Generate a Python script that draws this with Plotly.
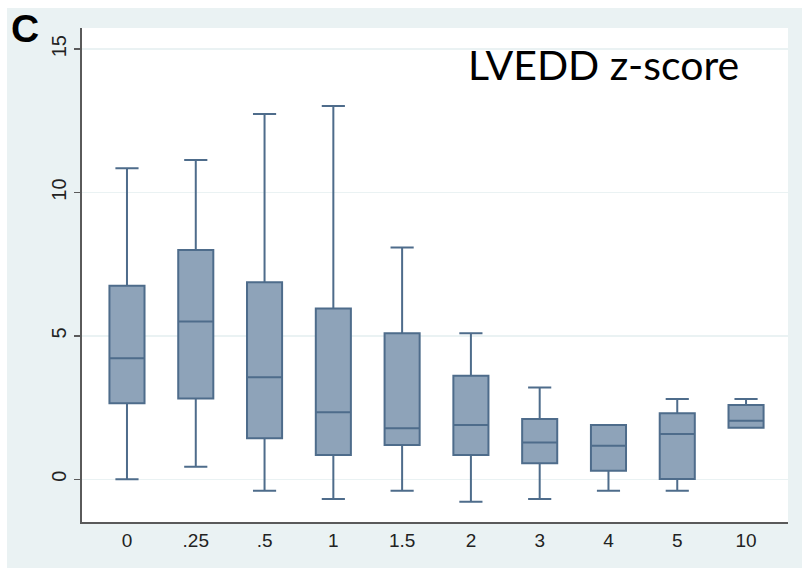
import plotly.graph_objects as go

# ---- data ----
categories = ["0", ".25", ".5", "1", "1.5", "2", "3", "4", "5", "10"]
lower_whisker = [0.00, 0.44, -0.40, -0.69, -0.40, -0.78, -0.69, -0.40, -0.40, 1.80]
q1_values = [2.65, 2.82, 1.43, 0.85, 1.20, 0.85, 0.56, 0.30, 0.01, 1.80]
median_values = [4.22, 5.50, 3.56, 2.34, 1.78, 1.89, 1.28, 1.17, 1.58, 2.04]
q3_values = [6.75, 8.00, 6.87, 5.96, 5.09, 3.61, 2.10, 1.89, 2.30, 2.59]
upper_whisker = [10.85, 11.14, 12.74, 13.02, 8.08, 5.09, 3.20, 1.89, 2.80, 2.80]
y_ticks = [0, 5, 10, 15]
panel_label = "C"
chart_title = "LVEDD z-score"

# ---- layout geometry (page pixels) ----
W, H = 802, 568
L, R, T, B = 82, 788, 28, 522


def px(x):
    return (x - L) / (R - L)


def py(y):
    return (B - y) / (B - T)


BG = "rgb(234,242,243)"
FILL = "rgb(142,163,185)"
LINE = "rgb(78,108,139)"

fig = go.Figure()
fig.add_trace(go.Box(
    x=categories,
    q1=q1_values,
    median=median_values,
    q3=q3_values,
    lowerfence=lower_whisker,
    upperfence=upper_whisker,
    fillcolor=FILL,
    line=dict(color=LINE, width=2),
    whiskerwidth=0.66,
    width=0.51,
    boxpoints=False,
    hoverinfo="skip",
    showlegend=False,
))

fig.update_layout(
    width=W, height=H,
    margin=dict(l=L, r=W - R, t=T, b=H - B, pad=0),
    paper_bgcolor=BG,
    plot_bgcolor="white",
    font=dict(family="Liberation Sans, Arial, sans-serif", color="#222222"),
    xaxis=dict(
        type="category",
        range=[-0.654, 9.61],
        showgrid=False,
        zeroline=False,
        showline=True,
        linecolor="#5a5a5a",
        linewidth=2,
        ticks="",
        tickfont=dict(size=19, color="#222222"),
        fixedrange=True,
    ),
    yaxis=dict(
        range=[-1.49, 15.74],
        tickvals=y_ticks,
        tickangle=-90,
        showgrid=True,
        gridcolor=BG,
        gridwidth=1.5,
        zeroline=False,
        showline=True,
        linecolor="#5a5a5a",
        linewidth=2,
        ticks="outside",
        ticklen=6,
        tickwidth=1.5,
        tickcolor="#5a5a5a",
        tickfont=dict(size=20, color="#222222"),
        fixedrange=True,
    ),
    shapes=[
        dict(type="rect", xref="paper", yref="paper",
             x0=px(-2), x1=px(7), y0=py(H + 2), y1=py(-2),
             fillcolor="white", line=dict(width=0), layer="below"),
        dict(type="rect", xref="paper", yref="paper",
             x0=px(-2), x1=px(W + 2), y0=py(8), y1=py(-2),
             fillcolor="white", line=dict(width=0), layer="below"),
    ],
    annotations=[
        dict(text=panel_label, xref="paper", yref="paper",
             x=px(9), y=py(29), xanchor="left", yanchor="middle",
             showarrow=False,
             font=dict(family="Liberation Sans, Arial, sans-serif", size=39,
                       color="black", weight="bold")),
        dict(text=chart_title, xref="paper", yref="paper",
             x=px(466), y=py(64), xanchor="left", yanchor="middle",
             showarrow=False,
             font=dict(family="Lato, sans-serif", size=41, color="black")),
    ],
)

fig.write_html(
    "out.html",
    config={"displayModeBar": False, "staticPlot": True},
    post_script="document.body.style.margin='0';"
                "document.documentElement.style.overflow='hidden';",
)
